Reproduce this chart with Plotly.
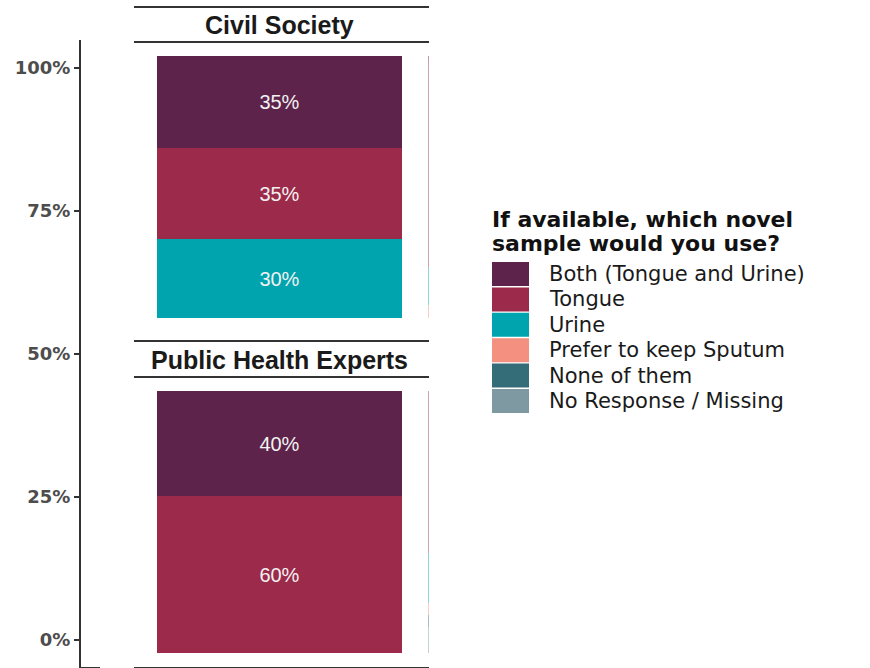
import plotly.graph_objects as go

# ---- data ---------------------------------------------------------------
categories = [
    "Both (Tongue and Urine)",
    "Tongue",
    "Urine",
    "Prefer to keep Sputum",
    "None of them",
    "No Response / Missing",
]
colors = ["#5D234A", "#9C2B4B", "#00A4AE", "#F4907F", "#346C78", "#7E99A1"]
groups = ["Civil Society", "Public Health Experts"]

civil_society = [35, 35, 30, 0, 0, 0]
public_health = [40, 60, 0, 0, 0, 0]
# neighbouring facet column, only its left edge falls inside the panels
civil_society_next = [1.5, 79, 14.5, 5, 0, 0]
public_health_next = [0, 62, 19, 4.5, 4.5, 10]

y_ticks = [0, 25, 50, 75, 100]
y_tick_labels = [f"{v}%" for v in y_ticks]
legend_title = ["If available, which novel", "sample would you use?"]

# ---- geometry helpers ---------------------------------------------------
W, H = 870, 668


def fx(p):
    return p / W


def fy(p):
    return 1 - p / H


def faded(hex_color, alpha=0.45):
    h = hex_color.lstrip("#")
    r, g, b = (int(h[i:i + 2], 16) for i in (0, 2, 4))
    return f"rgba({r},{g},{b},{alpha})"


BAR_PX = 245.0
BAR_CENTER = 279.2
PANEL_L, PANEL_R = 134, 429
x_range = [-(BAR_CENTER - PANEL_L) / BAR_PX, (PANEL_R - BAR_CENTER) / BAR_PX]
next_pos = (428 - BAR_CENTER) / BAR_PX + 0.5
panel_y_range = [-5.34, 105.34]

fig = go.Figure()

panels = [
    (civil_society, civil_society_next, "x", "y"),
    (public_health, public_health_next, "x2", "y2"),
]

# stack from the bottom: last category first
for i in reversed(range(len(categories))):
    for vals, nxt, xa, ya in panels:
        v, vn = vals[i], nxt[i]
        fig.add_trace(
            go.Bar(
                x=[0, next_pos],
                y=[v, vn],
                width=[1, 1],
                name=categories[i],
                marker=dict(color=[colors[i], faded(colors[i])], line=dict(width=0)),
                text=[f"{v:g}%" if v else "", ""],
                textposition="inside",
                insidetextanchor="middle",
                textangle=0,
                constraintext="none",
                textfont=dict(family="Liberation Sans", size=20, color="#F2F2F2"),
                xaxis=xa,
                yaxis=ya,
                showlegend=False,
                hoverinfo="skip",
            )
        )

# shared percentage axis on the left (carries no marks of its own)
fig.add_trace(
    go.Scatter(x=[], y=[], xaxis="x3", yaxis="y3", mode="markers",
               showlegend=False, hoverinfo="skip")
)

hidden = dict(visible=False, showgrid=False, zeroline=False, automargin=False)

fig.update_layout(
    width=W,
    height=H,
    autosize=False,
    margin=dict(l=0, r=0, t=0, b=0, autoexpand=False),
    paper_bgcolor="white",
    plot_bgcolor="white",
    barmode="stack",
    bargap=0,
    xaxis=dict(domain=[fx(PANEL_L), fx(PANEL_R)], range=x_range, anchor="y", **hidden),
    yaxis=dict(domain=[fy(332), fy(42)], range=panel_y_range, anchor="x", **hidden),
    xaxis2=dict(
        domain=[fx(PANEL_L), fx(PANEL_R)],
        range=x_range,
        anchor="y2",
        showline=True,
        linecolor="#333333",
        linewidth=2,
        ticks="outside",
        tickvals=[0],
        ticktext=[""],
        ticklen=5,
        tickwidth=1.5,
        tickcolor="#333333",
        showgrid=False,
        zeroline=False,
        automargin=False,
    ),
    yaxis2=dict(domain=[fy(667), fy(377)], range=panel_y_range, anchor="x2", **hidden),
    xaxis3=dict(
        domain=[fx(81), fx(100)],
        range=[0, 1],
        anchor="y3",
        showline=True,
        linecolor="#333333",
        linewidth=2,
        showticklabels=False,
        ticks="",
        showgrid=False,
        zeroline=False,
        fixedrange=True,
        automargin=False,
    ),
    yaxis3=dict(
        domain=[fy(667), fy(40)],
        range=[-(667 - 640) / 5.72, 100 + (68 - 40) / 5.72],
        anchor="x3",
        tickmode="array",
        tickvals=y_ticks,
        ticktext=y_tick_labels,
        ticks="outside",
        ticklen=5,
        tickwidth=1.5,
        tickcolor="#333333",
        showline=True,
        linecolor="#333333",
        linewidth=2,
        tickfont=dict(family="DejaVu Sans", size=18, color="#4D4D4D", weight="bold"),
        showgrid=False,
        zeroline=False,
        fixedrange=True,
        automargin=False,
    ),
)

# facet strips: title between two rules
shapes = []
annotations = []
strip_rules = [(7, 42), (341, 377)]
strip_text_y = [25, 360]
for g, (top, bot), ty in zip(groups, strip_rules, strip_text_y):
    for yy in (top, bot):
        shapes.append(
            dict(type="line", xref="paper", yref="paper",
                 x0=fx(PANEL_L), x1=fx(PANEL_R), y0=fy(yy), y1=fy(yy),
                 line=dict(color="#333333", width=2))
        )
    annotations.append(
        dict(text=f"<b>{g}</b>", xref="paper", yref="paper",
             x=fx(BAR_CENTER), y=fy(ty), xanchor="center", yanchor="middle",
             showarrow=False,
             font=dict(family="Liberation Sans", size=25, color="#1A1A1A"))
    )

# legend drawn as keys + labels
for line, ty in zip(legend_title, [219, 243]):
    annotations.append(
        dict(text=f"<b>{line}</b>", xref="paper", yref="paper",
             x=fx(490), y=fy(ty), xanchor="left", yanchor="middle",
             showarrow=False,
             font=dict(family="DejaVu Sans", size=22, color="#111111"))
    )

KEY_TOP, KEY_STEP, KEY_H = 262, 25.4, 24
for i, (cat, col) in enumerate(zip(categories, colors)):
    top = KEY_TOP + i * KEY_STEP
    shapes.append(
        dict(type="rect", xref="paper", yref="paper",
             x0=fx(492), x1=fx(529), y0=fy(top + KEY_H), y1=fy(top),
             fillcolor=col, line=dict(width=0))
    )
    annotations.append(
        dict(text=cat, xref="paper", yref="paper",
             x=fx(547), y=fy(top + KEY_H / 2), xanchor="left", yanchor="middle",
             showarrow=False,
             font=dict(family="DejaVu Sans", size=21, color="#1A1A1A"))
    )

fig.update_layout(shapes=shapes, annotations=annotations)

fig.write_html("out.html")
